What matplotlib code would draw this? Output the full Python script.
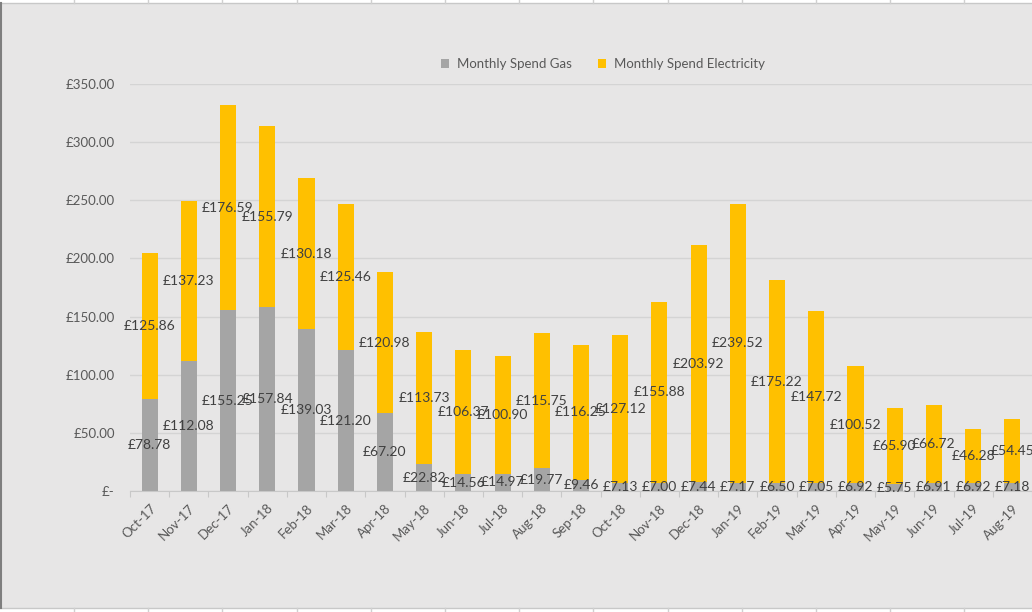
import matplotlib
matplotlib.use("Agg")
import matplotlib.pyplot as plt
from matplotlib.lines import Line2D
import numpy as np

months = ["Oct-17", "Nov-17", "Dec-17", "Jan-18", "Feb-18", "Mar-18", "Apr-18",
          "May-18", "Jun-18", "Jul-18", "Aug-18", "Sep-18", "Oct-18", "Nov-18",
          "Dec-18", "Jan-19", "Feb-19", "Mar-19", "Apr-19", "May-19", "Jun-19",
          "Jul-19", "Aug-19"]
gas = [78.78, 112.08, 155.25, 157.84, 139.03, 121.20, 67.20, 22.82, 14.56, 14.97,
       19.77, 9.46, 7.13, 7.00, 7.44, 7.17, 6.50, 7.05, 6.92, 5.75, 6.91, 6.92, 7.18]
elec = [125.86, 137.23, 176.59, 155.79, 130.18, 125.46, 120.98, 113.73, 106.37,
        100.90, 115.75, 116.25, 127.12, 155.88, 203.92, 239.52, 175.22, 147.72,
        100.52, 65.90, 66.72, 46.28, 54.45]
yticks = [0, 50, 100, 150, 200, 250, 300, 350]

BG = "#E7E6E6"
GAS_C = "#A5A5A5"
ELEC_C = "#FFC000"
TXT = "#404040"
TICK = "#595959"
FONT = ["Lato", "DejaVu Sans"]

W, H = 1032, 612
fig = plt.figure(figsize=(W / 100, H / 100), dpi=100, facecolor=BG)

# spreadsheet frame decorations
fig.add_artist(plt.Rectangle((0, 1 - 3 / H), 1, 3 / H, transform=fig.transFigure,
                             facecolor="white", edgecolor="none"))
fig.add_artist(plt.Rectangle((0, 0), 1, 4 / H, transform=fig.transFigure,
                             facecolor="white", edgecolor="none"))
fig.add_artist(Line2D([0, 1], [1 - 3 / H, 1 - 3 / H], transform=fig.transFigure,
                      color="#C8C8C8", lw=1))
fig.add_artist(Line2D([0, 1], [4 / H, 4 / H], transform=fig.transFigure,
                      color="#C8C8C8", lw=1))
for xc in np.arange(74, W, 74.2):
    fig.add_artist(Line2D([xc / W, xc / W], [1 - 3 / H, 1], transform=fig.transFigure,
                          color="#D0D0D0", lw=1))
    fig.add_artist(Line2D([xc / W, xc / W], [0, 4 / H], transform=fig.transFigure,
                          color="#D0D0D0", lw=1))
fig.add_artist(Line2D([1 / W, 1 / W], [4 / H, 1 - 3 / H], transform=fig.transFigure,
                      color="#7F7F7F", lw=1.5))

left, right = 130, W
bottom, top = 491, 84
ax = fig.add_axes([left / W, 1 - bottom / H, (right - left) / W, (bottom - top) / H])
ax.set_facecolor(BG)

x = np.arange(len(months))
bw = 0.41
b1 = ax.bar(x, gas, bw, color=GAS_C, label="Monthly Spend Gas", zorder=2)
b2 = ax.bar(x, elec, bw, bottom=gas, color=ELEC_C, label="Monthly Spend Electricity", zorder=2)

for xi, g, e in zip(x, gas, elec):
    ax.text(xi, g / 2, f"£{g:.2f}", ha="center", va="center", fontsize=10,
            color=TXT, family=FONT, zorder=3)
    ax.text(xi, g + e / 2, f"£{e:.2f}", ha="center", va="center", fontsize=10,
            color=TXT, family=FONT, zorder=3)

ppc = 39.5
ax.set_xlim(-0.5, -0.5 + (right - left) / ppc)
ax.set_ylim(0, 350)
ax.set_yticks(yticks)
ax.set_yticklabels(["£-" if v == 0 else f"£{v:.2f}" for v in yticks],
                   fontsize=9.5, color=TICK, family=FONT)
ax.yaxis.grid(True, color="#D4D4D4", lw=1, zorder=0)
ax.tick_params(axis="y", length=0, pad=11)

ax.set_xticks(x)
ax.set_xticklabels(months, rotation=45, ha="right", rotation_mode="anchor",
                   fontsize=9.5, color=TICK, family=FONT)
ax.tick_params(axis="x", length=0, pad=8)
ax.set_xticks(np.arange(-0.5, len(months) + 0.5, 1), minor=True)
ax.tick_params(axis="x", which="minor", length=4, color="#C8C8C8", width=0.8)

for s in ["top", "right", "left"]:
    ax.spines[s].set_visible(False)
ax.spines["bottom"].set_color("#C8C8C8")
ax.spines["bottom"].set_linewidth(0.8)

leg = fig.legend(handles=[b1, b2], loc="center", bbox_to_anchor=(603 / W, 1 - 64 / H),
                 ncol=2, frameon=False, handlelength=0.6,
                 handleheight=0.6, handletextpad=0.6, columnspacing=2.0,
                 prop={"family": FONT, "size": 9.5})
for t in leg.get_texts():
    t.set_color(TICK)

fig.savefig("out.png", dpi=100, facecolor=BG)
